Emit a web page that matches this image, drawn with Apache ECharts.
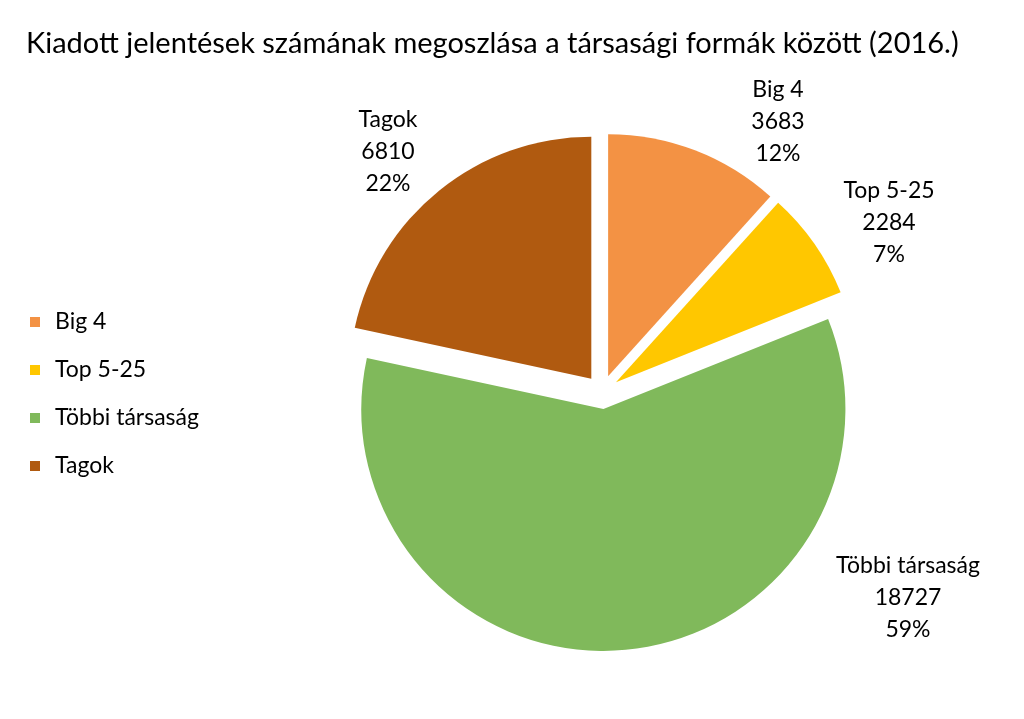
<!DOCTYPE html>
<html>
<head>
<meta charset="utf-8">
<script src="https://cdn.jsdelivr.net/npm/echarts@6/dist/echarts.min.js"></script>
<style>
html,body{margin:0;padding:0;background:#fff;}
#chart{width:1024px;height:719px;}
</style>
</head>
<body>
<div id="chart"></div>
<script>
var titleText = 'Kiadott jelentések számának megoszlása a társasági formák között (2016.)';
var categories = ['Big 4', 'Top 5-25', 'Többi társaság', 'Tagok'];
var values = [3683, 2284, 18727, 6810];
var colors = ['#F39244', '#FFC700', '#80B95B', '#B05A10'];

// label anchor points (layout only), centre of each 3-line data label
var labelAnchors = [[778, 122], [889, 223], [908, 598], [388, 152]];

var FONT = 'Lato, "Open Sans", sans-serif';
var chart = echarts.init(document.getElementById('chart'));

var total = values.reduce(function (s, v) { return s + v; }, 0);

var data = categories.map(function (c, i) {
  return { name: c, value: values[i], selected: true, itemStyle: { color: colors[i] } };
});

var labelGraphics = categories.map(function (c, i) {
  return {
    type: 'text',
    x: labelAnchors[i][0],
    y: labelAnchors[i][1],
    silent: true,
    style: {
      text: c + '\n' + values[i] + '\n' + Math.round(values[i] / total * 100) + '%',
      fontFamily: FONT,
      fontSize: 23,
      lineHeight: 32,
      fill: '#000',
      align: 'center',
      verticalAlign: 'middle'
    }
  };
});

chart.setOption({
  backgroundColor: '#ffffff',
  animation: false,
  title: {
    text: titleText,
    left: 21,
    top: 24,
    textStyle: { fontFamily: FONT, fontSize: 29, fontWeight: 'normal', color: '#000' }
  },
  legend: {
    orient: 'vertical',
    left: 25,
    top: 305,
    itemWidth: 10,
    itemHeight: 10,
    itemGap: 24,
    icon: 'rect',
    data: categories,
    textStyle: { fontFamily: FONT, fontSize: 23, color: '#000', lineHeight: 24, padding: [0, 0, 0, 10] }
  },
  graphic: labelGraphics,
  series: [{
    type: 'pie',
    center: [602, 392],
    radius: 242,
    startAngle: 90,
    clockwise: true,
    selectedMode: 'multiple',
    selectedOffset: 17,
    data: data,
    label: { show: false },
    labelLine: { show: false },
    emphasis: { disabled: true }
  }]
});
</script>
</body>
</html>
